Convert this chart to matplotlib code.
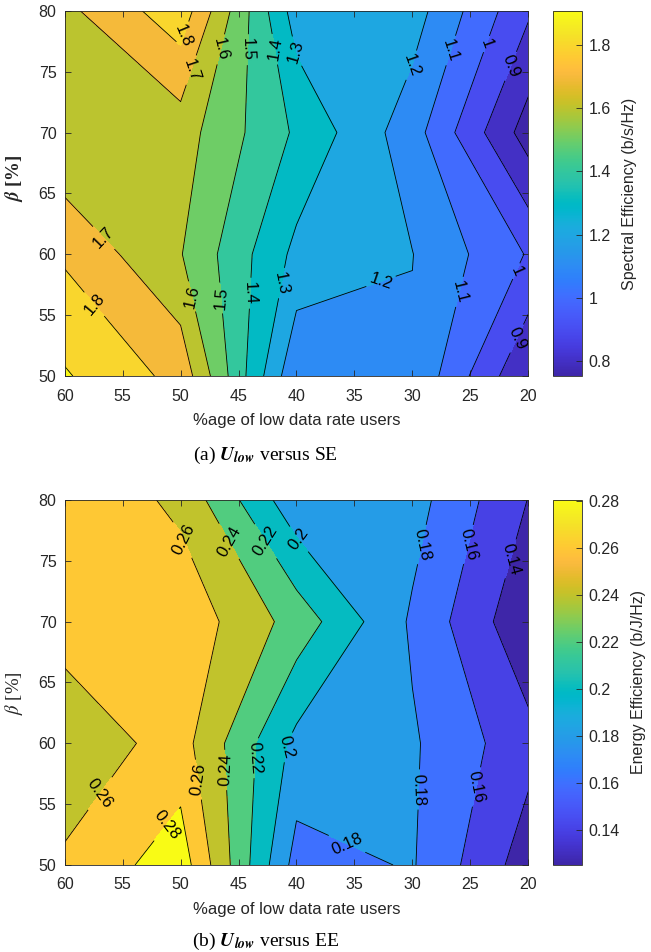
import numpy as np
import matplotlib.pyplot as plt
from matplotlib.colors import LinearSegmentedColormap, Normalize
from matplotlib.cm import ScalarMappable
from matplotlib.ticker import FormatStrFormatter

plt.rcParams['font.family'] = ['Liberation Sans', 'DejaVu Sans']
plt.rcParams['mathtext.fontset'] = 'stix'

# grid of the simulation sweep
users_pct = [20, 30, 40, 50, 60]       # %age of low data rate users
beta_pct = [50, 60, 70, 80]            # beta [%]

# spectral efficiency (b/s/Hz), one row per beta value
se_b50 = [0.805, 1.187, 1.115, 1.768, 1.910]
se_b60 = [0.992, 1.202, 1.273, 1.605, 1.785]
se_b70 = [0.752, 1.143, 1.384, 1.645, 1.604]
se_b80 = [0.915, 1.245, 1.250, 1.862, 1.675]

# energy efficiency (b/J/Hz), one row per beta value
ee_b50 = [0.1296, 0.1816, 0.172, 0.291, 0.263]
ee_b60 = [0.1468, 0.1825, 0.194, 0.268, 0.247]
ee_b70 = [0.124, 0.177, 0.232, 0.274, 0.268]
ee_b80 = [0.1395, 0.188, 0.186, 0.255, 0.279]

se_levels = [0.8, 0.9, 1.0, 1.1, 1.2, 1.3, 1.4, 1.5, 1.6, 1.7, 1.8, 1.9]
se_labelled = [0.9, 1.0, 1.1, 1.2, 1.3, 1.4, 1.5, 1.6, 1.7, 1.8]
ee_levels = [0.14, 0.16, 0.18, 0.20, 0.22, 0.24, 0.26, 0.28]
ee_labelled = ee_levels

se_ticks = [0.8, 1.0, 1.2, 1.4, 1.6, 1.8]
ee_ticks = [0.14, 0.16, 0.18, 0.20, 0.22, 0.24, 0.26, 0.28]

# where the contour labels sit (x, beta)
se_label_pos = [(50.0, 78.0), (49.0, 75.1), (46.4, 76.8), (44.1, 76.8), (42.1, 76.8),
                (40.3, 76.6), (30.0, 75.5), (26.9, 76.8), (23.7, 77.3), (21.4, 75.4),
                (56.8, 61.2), (57.7, 55.7), (49.2, 56.5), (46.6, 56.4), (43.9, 56.8),
                (41.1, 57.6), (32.5, 57.2), (25.9, 56.9), (21.0, 58.6), (20.8, 53.0)]
ee_label_pos = [(49.9, 76.7), (46.2, 76.4), (43.0, 76.4), (39.9, 76.7), (29.0, 76.3),
                (25.0, 76.3), (21.3, 75.1), (57.0, 55.9), (51.6, 53.6), (48.6, 57.0),
                (46.3, 57.8), (43.6, 58.8), (40.8, 59.7), (29.3, 56.2), (24.4, 56.4),
                (35.9, 51.2)]

# MATLAB parula (64 entries)
parula_rgb = [
    (0.2422, 0.1504, 0.6603), (0.2504, 0.1650, 0.7076), (0.2578, 0.1818, 0.7511),
    (0.2647, 0.1978, 0.7952), (0.2706, 0.2147, 0.8364), (0.2751, 0.2342, 0.8710),
    (0.2783, 0.2559, 0.8991), (0.2803, 0.2782, 0.9221), (0.2813, 0.3006, 0.9414),
    (0.2810, 0.3228, 0.9579), (0.2795, 0.3447, 0.9717), (0.2760, 0.3667, 0.9829),
    (0.2699, 0.3892, 0.9906), (0.2602, 0.4123, 0.9952), (0.2440, 0.4358, 0.9988),
    (0.2206, 0.4603, 0.9973), (0.1963, 0.4847, 0.9892), (0.1834, 0.5074, 0.9798),
    (0.1786, 0.5289, 0.9682), (0.1764, 0.5499, 0.9520), (0.1687, 0.5703, 0.9359),
    (0.1540, 0.5902, 0.9218), (0.1460, 0.6091, 0.9079), (0.1380, 0.6276, 0.8973),
    (0.1248, 0.6459, 0.8883), (0.1113, 0.6635, 0.8763), (0.0952, 0.6798, 0.8598),
    (0.0689, 0.6948, 0.8394), (0.0297, 0.7082, 0.8163), (0.0036, 0.7203, 0.7917),
    (0.0067, 0.7312, 0.7660), (0.0433, 0.7411, 0.7394), (0.0964, 0.7500, 0.7120),
    (0.1408, 0.7584, 0.6842), (0.1717, 0.7670, 0.6554), (0.1938, 0.7758, 0.6251),
    (0.2161, 0.7843, 0.5923), (0.2470, 0.7918, 0.5567), (0.2906, 0.7973, 0.5188),
    (0.3406, 0.8008, 0.4789), (0.3909, 0.8029, 0.4354), (0.4456, 0.8024, 0.3909),
    (0.5044, 0.7993, 0.3480), (0.5616, 0.7942, 0.3045), (0.6174, 0.7876, 0.2612),
    (0.6720, 0.7793, 0.2227), (0.7242, 0.7698, 0.1910), (0.7738, 0.7598, 0.1646),
    (0.8203, 0.7498, 0.1535), (0.8634, 0.7406, 0.1596), (0.9035, 0.7330, 0.1774),
    (0.9393, 0.7288, 0.2100), (0.9728, 0.7298, 0.2394), (0.9956, 0.7434, 0.2371),
    (0.9970, 0.7659, 0.2199), (0.9952, 0.7893, 0.2028), (0.9892, 0.8136, 0.1885),
    (0.9786, 0.8386, 0.1766), (0.9676, 0.8639, 0.1643), (0.9610, 0.8890, 0.1537),
    (0.9597, 0.9135, 0.1423), (0.9628, 0.9373, 0.1265), (0.9691, 0.9606, 0.1064),
    (0.9769, 0.9839, 0.0805)]
parula = LinearSegmentedColormap.from_list('parula', parula_rgb, N=256)

AX_COLOR = '#262626'


def draw_panel(ax, cax, z, levels, labelled, clim, label_pos, cbar_ticks,
               cbar_label, caption, caption_y):
    X, Y = np.meshgrid(users_pct, beta_pct)
    z = np.array(z)
    norm = Normalize(*clim)

    # each band takes the colour of its lower contour level, lowest band the minimum
    bounds = [z.min() - 1.0] + levels + [z.max() + 1.0]
    fills = [parula(0.0)] + [parula(norm(v)) for v in levels]
    ax.contourf(X, Y, z, levels=bounds, colors=fills)

    # unlabelled lines drawn apart so clabel only sees the labelled set
    plain = [v for v in levels if v not in labelled]
    if plain:
        ax.contour(X, Y, z, levels=plain, colors='k', linewidths=0.6)
    cs = ax.contour(X, Y, z, levels=labelled, colors='k', linewidths=0.6)
    ax.clabel(cs, manual=label_pos, fmt='%g', fontsize=12,
              inline=True, inline_spacing=4)

    ax.set_xlim(60, 20)
    ax.set_ylim(50, 80)
    ax.set_xticks([60, 55, 50, 45, 40, 35, 30, 25, 20])
    ax.set_yticks([50, 55, 60, 65, 70, 75, 80])
    ax.tick_params(direction='in', top=True, right=True, length=4, width=0.6,
                   colors=AX_COLOR, labelsize=11.5)
    ax.tick_params(axis='x', pad=9)
    ax.tick_params(axis='y', pad=6)
    for s in ax.spines.values():
        s.set_color(AX_COLOR)
        s.set_linewidth(0.6)
    ax.set_xlabel('%age of low data rate users', fontsize=12, color=AX_COLOR,
                  labelpad=7)

    sm = ScalarMappable(norm=norm, cmap=parula)
    cb = fig.colorbar(sm, cax=cax)
    cb.set_ticks(cbar_ticks)
    cb.ax.yaxis.set_major_formatter(FormatStrFormatter('%g'))
    cb.ax.tick_params(direction='in', length=4, width=0.6, colors=AX_COLOR,
                      labelsize=11.5, pad=5)
    cb.outline.set_edgecolor(AX_COLOR)
    cb.outline.set_linewidth(0.6)
    cb.set_label(cbar_label, fontsize=11.5, color=AX_COLOR, labelpad=8)

    fig.text(265 / 651, caption_y, caption, ha='center', va='center',
             fontsize=14, family='Liberation Serif')


fig = plt.figure(figsize=(6.51, 9.52), dpi=100)

ax_se = fig.add_axes([0.0994, 0.605, 0.7121, 0.3837])
cax_se = fig.add_axes([0.849, 0.605, 0.0445, 0.3837])
ax_ee = fig.add_axes([0.0994, 0.0914, 0.7121, 0.3834])
cax_ee = fig.add_axes([0.849, 0.0914, 0.0445, 0.3834])

draw_panel(ax_se, cax_se, [se_b50, se_b60, se_b70, se_b80], se_levels, se_labelled,
           (0.752, 1.909), se_label_pos, se_ticks, 'Spectral Efficiency (b/s/Hz)',
           r'(a) $\mathbfit{U}_{\mathbfit{low}}$ versus SE', 1 - 455 / 952)
ax_se.set_ylabel(r'$\mathbfit{\beta}$ [%]', fontsize=13.5, color=AX_COLOR,
                 family='Liberation Serif', fontweight='bold')
ax_se.yaxis.set_label_coords(-0.086, 0.54)

draw_panel(ax_ee, cax_ee, [ee_b50, ee_b60, ee_b70, ee_b80], ee_levels, ee_labelled,
           (0.125, 0.2803), ee_label_pos, ee_ticks, 'Energy Efficiency (b/J/Hz)',
           r'(b) $\mathbfit{U}_{\mathbfit{low}}$ versus EE', 1 - 941 / 952)
ax_ee.set_ylabel(r'$\beta$ [%]', fontsize=13.5, color=AX_COLOR,
                 family='Liberation Serif')
ax_ee.yaxis.set_label_coords(-0.086, 0.47)

fig.savefig('out.png', dpi=100)
